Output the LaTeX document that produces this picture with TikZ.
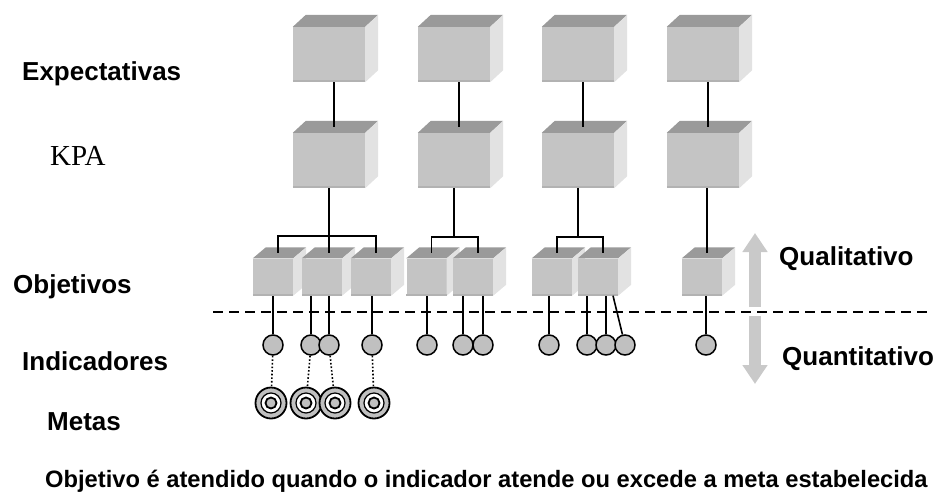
\documentclass[tikz,border=0pt]{standalone}
\usepackage{fontspec}
\setmainfont{Liberation Sans}
\newfontfamily\kpafont{Liberation Serif}
\usetikzlibrary{arrows.meta}
\definecolor{boxfront}{HTML}{C4C4C4}
\definecolor{boxtop}{HTML}{9A9A9A}
\definecolor{boxside}{HTML}{E2E2E2}
\definecolor{boxedge}{HTML}{B2B2B2}
\definecolor{dotfill}{HTML}{C0C0C0}
\definecolor{arrowgrey}{HTML}{C9C9C9}

% side and top faces of a box whose front face is node #1
\newcommand\cubefaces[3]{%
  \fill[boxtop] (#1.north west) -- ++(#2,-#3) -- ([shift={(#2,-#3)}]#1.north east)
    -- (#1.north east) -- cycle;
  \fill[boxside] (#1.north east) -- ++(#2,-#3) -- ([shift={(#2,-#3)}]#1.south east)
    -- (#1.south east) -- cycle;
  \draw[boxedge, line width=2pt] ([yshift=1pt]#1.south west) -- ([yshift=1pt]#1.south east);
  \coordinate (#1-top) at ([shift={(5,-#3/2)}]#1.north);
}

\begin{document}
\begin{tikzpicture}[x=1pt, y=-1pt,
  level/.style={anchor=base west, inner sep=0pt, font=\fontsize{26}{30}\selectfont\bfseries},
  bigbox/.style={fill=boxfront, inner sep=0pt, minimum width=72pt, minimum height=55pt},
  smallbox/.style={fill=boxfront, inner sep=0pt, minimum width=40pt, minimum height=37pt},
  link/.style={draw=black, line width=1.6pt},
  goal/.style={draw=black, line width=1.6pt, dash pattern=on 1.6pt off 2pt},
  split/.style={draw=black, line width=1.8pt, dash pattern=on 10pt off 6pt},
  indicator/.style={circle, draw=black, fill=dotfill, line width=1.5pt,
    minimum size=20pt, inner sep=0pt},
  target/.style={circle, draw=black, fill=dotfill, line width=1.8pt,
    minimum size=31pt, inner sep=0pt,
    path picture={
      \draw[fill=white, line width=1.2pt] (path picture bounding box.center) circle (10pt);
      \draw[fill=dotfill, line width=1.8pt] (path picture bounding box.center) circle (5.5pt);}},
  trend/.style={draw=arrowgrey, line width=12pt, -{Triangle[length=19pt, width=24pt]}}
]
\useasboundingbox (0,0) rectangle (939,493);

% Level names on the left.
\node[level] (expect) at (22,80) {Expectativas};
\node[level, font=\kpafont\fontsize{29}{32}\selectfont] (kpa) at (50,165) {KPA};
\node[level] (obj) at (13,293) {Objetivos};
\node[level] (ind) at (22,370) {Indicadores};
\node[level] (metas) at (47,430) {Metas};

% Qualitative above the line, quantitative below.
\coordinate (split-l) at (213,312);
\coordinate (split-r) at (933,312);
\draw[split] (split-l) -- (split-r);

% Expectations and KPAs.
\foreach \n/\x/\y in {e1/329/54.5, e2/454/54.5, e3/578/54.5, e4/703/54.5,
                      k1/329/160.5, k2/454/160.5, k3/578/160.5, k4/703/160.5} {
  \node[bigbox] (\n) at (\x,\y) {};
  \cubefaces{\n}{13}{12}
}
\foreach \c in {1,...,4}
  \draw[link] (k\c-top |- e\c.south) -- (k\c-top);

% Objectives.
\foreach \n/\x in {o1/273, o2/322, o3/371, o4/426.5, o5/473, o6/552, o7/598, o8/702} {
  \node[smallbox] (\n) at (\x,277) {};
  \cubefaces{\n}{13}{11}
}
\draw[link] (k1.south) -- (k1.south |- o2-top);
\path (k1.south) ++(0,48) coordinate (bar1);
\draw[link] (o1-top) |- (bar1) -| (o3-top);
\draw[link] (k2.south) -- ++(0,49) coordinate (bar2);
\draw[link] (o4-top) |- (bar2) -| (o5-top);
\draw[link] (k3.south) -- ++(0,49) coordinate (bar3);
\draw[link] (o6-top) |- (bar3) -| (o7-top);
\draw[link] (o8-top |- k4.south) -- (o8-top);

% Indicators hang below the objectives.
\foreach \n/\x in {i1/273, i2/311, i3/329, i4/372, i5/427, i6/463, i7/483,
                   i8/549, i9/587, i10/606, i11/625, i12/706}
  \node[indicator] (\n) at (\x,345) {};
\foreach \i/\o in {i1/o1, i2/o2, i3/o2, i4/o3, i5/o4, i6/o5, i7/o5,
                   i8/o6, i9/o7, i10/o7, i12/o8}
  \draw[link] (\i) -- (\i |- \o.south);
\draw[link] (i11) -- ([xshift=15pt]o7.south);

% Goals.
\foreach \n/\x in {m1/271, m2/306, m3/335, m4/374}
  \node[target] (\n) at (\x,403) {};
\foreach \i/\m in {i1/m1, i2/m2, i3/m3, i4/m4}
  \draw[goal] (\i) -- (\m);

% Direction arrows.
\coordinate (qual-base) at (755,307);
\coordinate (qual-tip) at (755,233);
\coordinate (quan-base) at (755,316);
\coordinate (quan-tip) at (755,384);
\draw[trend] (qual-base) -- (qual-tip);
\draw[trend] (quan-base) -- (quan-tip);
\node[level] (qual) at (779,265) {Qualitativo};
\node[level] (quan) at (782,365) {Quantitativo};

\node[level, font=\fontsize{23.7}{28}\selectfont\bfseries] (rule) at (45,487)
  {Objetivo é atendido quando o indicador atende ou excede a meta estabelecida};
\end{tikzpicture}
\end{document}
